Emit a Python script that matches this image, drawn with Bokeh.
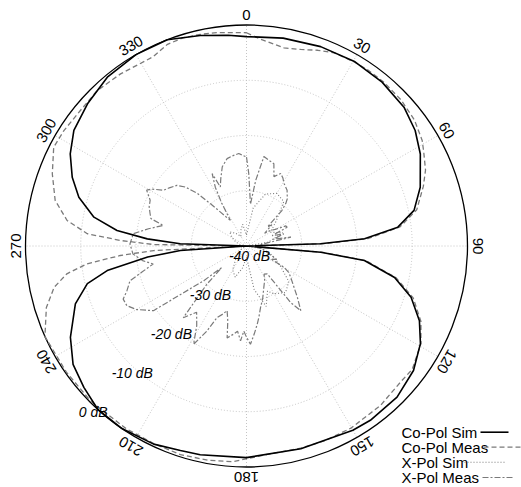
import numpy as np
from bokeh.plotting import figure
from bokeh.models import Range1d
from bokeh.core.properties import value
from bokeh.embed import file_html
from bokeh.resources import INLINE

# ---------------- data (angle in degrees clockwise from top, level in dB) ----------------
copol_sim_ang = [0, 10, 20.4, 30.5, 39.6, 48.6, 55.6, 62.1, 71.3, 78, 82.9, 86.5, 88.3, 91,
                 94.8, 97, 102, 107.3, 113.4, 119.3, 126.7, 135.1, 144.6, 150, 165, 180,
                 192.5, 197.9, 205.1, 214.3, 222.2, 229, 235.7, 242.6, 251.3, 256.7, 260,
                 263.6, 266.1, 269, 271.9, 274.1, 276.8, 280.7, 286.2, 291.5, 297.6, 303.8,
                 311.8, 320.5, 330, 339, 347.6, 355, 360]
copol_sim_db = [-2.1, -1.8, -1.5, -1.3, -1.5, -2.0, -3.0, -4.4, -6.8, -9.0, -12.4, -18.6,
                -26.6, -40, -26.5, -18.5, -12.6, -8.8, -5.9, -3.9, -2.3, -1.4, -1.3, -1.5,
                -2.0, -1.7, -1.3, -1.1, -0.4, 0.0, 0.0, -1.0, -2.0, -4.1, -7.3, -10.4, -14.4,
                -22.0, -28.0, -40, -28.0, -22.0, -16.4, -11.9, -8.4, -6.1, -4.0, -2.4, -1.4,
                -0.4, 0.0, 0.0, -1.0, -1.7, -2.1]

copol_meas_ang = [0, 3.9, 10.7, 15.4, 20, 24.4, 30.3, 34.5, 40, 46.6, 53.1, 59, 62.1, 67,
                  71.3, 78, 82.9, 86.5, 88.3, 91, 94.8, 97, 102, 107.3, 113.4, 119.3, 126.7,
                  131.1, 140, 150.2, 158, 165, 174.2, 183.5, 190, 197.6, 205, 213.3, 225, 235,
                  245.8, 252.9, 257.9, 261.2, 263.6, 265.7, 267.2, 269, 270.9, 272.5, 274.4,
                  278.1, 283.4, 290.4, 297.1, 302.3, 309.2, 316.2, 323.8, 333.8, 338.6, 343,
                  347.7, 352, 356.6, 360]
copol_meas_db = [-1.4, -2.5, -3.5, -3.1, -2.3, -1.6, -1.4, -1.3, -1.3, -1.5, -2.0, -2.9, -3.7,
                 -4.8, -6.2, -8.5, -12.0, -18.0, -26.0, -40, -26.0, -18.2, -12.3, -8.4, -5.6,
                 -3.8, -2.6, -2.8, -2.3, -2.0, -2.0, -2.1, -2.1, -0.9, -0.6, -0.4, -0.5, -0.4,
                 -0.2, -0.2, 0.0, -2.1, -4.4, -7.1, -10.9, -17.1, -23.2, -40, -23.2, -17.2,
                 -11.1, -7.2, -4.4, -2.5, -0.8, -0.9, -1.2, -1.0, -1.4, -1.8, -0.8, -0.6,
                 -0.8, -1.0, -1.3, -1.4]

xpol_sim_ang = [0, 10, 20, 30, 40, 50, 60, 70, 80, 90, 100, 110, 120, 130, 140, 150, 155, 162,
                170, 180, 190, 200, 210, 220, 230, 240, 250, 260, 270, 280, 290, 300, 310, 320,
                330, 340, 350, 360]
xpol_sim_db = [-38, -33, -30, -29, -29.5, -33, -35, -33, -36, -40, -37, -35, -33, -30, -29,
               -30, -31, -28.5, -32, -38, -36, -34, -35, -37, -38, -39, -40, -39, -40, -39,
               -38, -37, -36, -37, -38, -37, -36, -38]

xpol_meas_ang = [0, 1.8, 5.4, 8, 11, 15, 18.4, 21.6, 25.2, 28, 31, 36, 40.8, 42.7, 45, 47.8, 50,
                 55, 57, 60, 63, 65.2, 68, 72, 76, 78.7, 83, 90, 96, 102, 108, 114, 118, 119.6,
                 122, 125.3, 131, 135.3, 140, 142, 143.3, 148, 152, 157.2, 163, 167.1, 170,
                 172.2, 175, 177.7, 180, 181.8, 183.6, 186, 188.2, 190, 191.9, 194, 196.7, 199,
                 202.4, 205, 208.3, 212, 217, 221.4, 226, 229, 231, 235.2, 240, 243.5, 246.7,
                 249.5, 253.4, 256, 259.1, 262, 266, 271, 276.2, 280, 283.9, 286, 288.5, 292,
                 295.4, 299.2, 301, 303.9, 307, 311.1, 313.9, 317, 319.5, 322.4, 326, 327.9,
                 330, 332, 334.6, 336.1, 339, 343, 347.5, 351, 355.2, 360]
xpol_meas_db = [-23.9, -26.9, -32.4, -28, -23.5, -24, -24.3, -26.5, -25.5, -26, -26.8, -27.5,
                -28.7, -29.5, -31, -34.9, -34, -36, -34.8, -34, -32, -31.9, -35, -32.9, -35,
                -31.8, -37, -38, -38, -37, -36, -34, -35, -32.2, -31, -30.2, -28.6, -26.9,
                -24.7, -27, -33.7, -34, -33, -31.9, -30, -28.6, -27, -25.7, -24, -22.2, -23.5,
                -24.6, -22.8, -24.5, -23.9, -23.5, -23, -26, -27.8, -27, -26, -23, -19.8, -23,
                -25, -22.7, -30, -34, -30, -19.5, -17, -15.8, -15.7, -16.9, -18, -20.5, -22.8,
                -21, -19.4, -18.9, -19.4, -22, -24.5, -22, -21.6, -21, -20.7, -19.3, -20,
                -21.9, -22.5, -23.3, -24.6, -27, -29.9, -32.2, -34, -34.5, -31, -28, -25.5,
                -28.3, -27, -25, -23.8, -23.5, -23.2, -23.9]

angle_ticks = [0, 30, 60, 90, 120, 150, 180, 210, 240, 270, 300, 330]
db_ticks = [-40, -30, -20, -10, 0]
db_labels = ["-40 dB", "-30 dB", "-20 dB", "-10 dB", "0 dB"]
legend_labels = ["Co-Pol Sim", "Co-Pol Meas", "X-Pol Sim", "X-Pol Meas"]

# ---------------- geometry ----------------
R = 221.0
DB_MIN, DB_MAX = -40.0, 0.0
W, H = 521, 487
CX, CY = 246.0, 245.5   # centre in figure pixels (from left / from top)


def to_xy(ang, db):
    a = np.radians(np.asarray(ang, dtype=float))
    r = (np.clip(np.asarray(db, dtype=float), DB_MIN, DB_MAX) - DB_MIN) / (DB_MAX - DB_MIN) * R
    return r * np.sin(a), r * np.cos(a)


p = figure(width=W, height=H, output_backend="svg", toolbar_location=None,
           x_range=Range1d(-CX, W - CX), y_range=Range1d(-(H - CY), CY),
           min_border=0, outline_line_color=None)
p.axis.visible = False
p.grid.visible = False
p.background_fill_color = "white"

grid_col = "#c4c4c4"
# spokes
for a in angle_ticks:
    t = np.radians(a)
    p.line([0, R * np.sin(t)], [0, R * np.cos(t)], line_color=grid_col,
           line_width=1, line_dash="1 2")
# rings
for d in db_ticks[1:-1]:
    rr = (d - DB_MIN) / (DB_MAX - DB_MIN) * R
    p.circle(x=0, y=0, radius=rr, fill_color=None, line_color=grid_col,
             line_width=1, line_dash="1 2")
# outer circle
p.circle(x=0, y=0, radius=R, fill_color=None, line_color="black", line_width=1.3)

gray = "#7a7a7a"
styles = [
    dict(line_color="black", line_width=1.6, line_dash="solid"),
    dict(line_color=gray, line_width=1.3, line_dash="5 3"),
    dict(line_color=gray, line_width=1.1, line_dash="1 2"),
    dict(line_color=gray, line_width=1.2, line_dash="6 2 2 2"),
]

for (ang, db), st in zip([(xpol_sim_ang, xpol_sim_db), (xpol_meas_ang, xpol_meas_db),
                          (copol_meas_ang, copol_meas_db), (copol_sim_ang, copol_sim_db)],
                         [styles[2], styles[3], styles[1], styles[0]]):
    x, y = to_xy(ang, db)
    p.line(x, y, **st)

# angle labels
lab_r = 231.0
ta = np.radians(angle_ticks)
p.text(x=list(lab_r * np.sin(ta)), y=list(lab_r * np.cos(ta)),
       text=[str(a) for a in angle_ticks], angle=list(-ta),
       text_align="center", text_baseline="middle",
       text_font=value("Liberation Sans"), text_font_size="15px", text_color="black")

# dB labels along 225 degrees
dx_, dy_ = to_xy([225] * len(db_ticks), db_ticks)
p.text(x=list(dx_ + 3), y=list(dy_ - 10), text=db_labels,
       text_align="center", text_baseline="middle", text_font_style="italic",
       text_font=value("Liberation Sans"), text_font_size="14px", text_color="black")

# legend (drawn manually)
leg_x = 155.0
leg_y = [-186.2, -201.2, -216.2, -231.5]
sample_x = [(234, 262), (237, 274), (215, 259), (236, 266)]
p.text(x=[leg_x] * 4, y=leg_y, text=legend_labels, text_align="left",
       text_baseline="middle", text_font=value("Liberation Sans"),
       text_font_size="15px", text_color="black")
for yy, (x0, x1), st in zip(leg_y, sample_x, styles):
    p.line([x0, x1], [yy, yy], **st)

open("out.html", "w").write(file_html(p, INLINE))
